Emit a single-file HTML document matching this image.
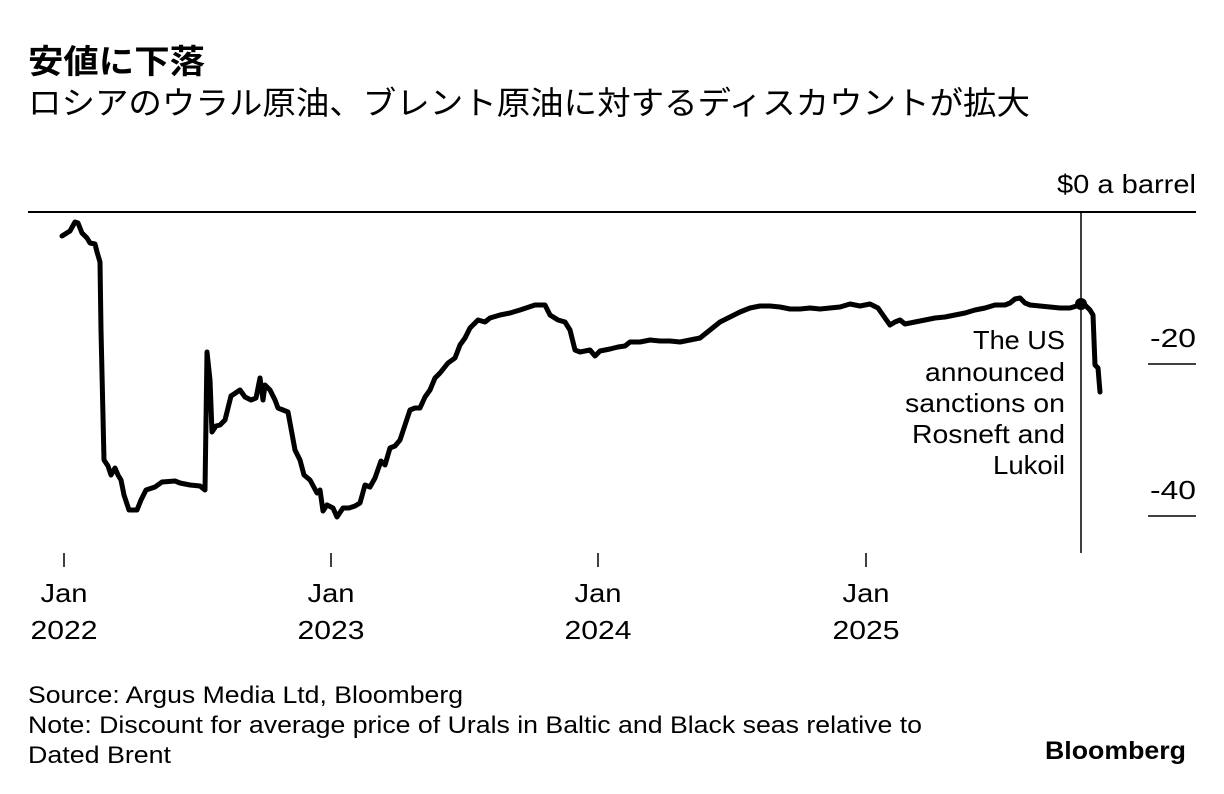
<!DOCTYPE html>
<html><head><meta charset="utf-8"><style>
body{margin:0;background:#fff;width:1224px;height:794px;overflow:hidden;font-family:"Liberation Sans","Noto Sans CJK JP",sans-serif;color:#000}
</style></head><body>
<svg width="1224" height="794" xmlns="http://www.w3.org/2000/svg" style="position:absolute;left:0;top:0;font-family:'Liberation Sans','Noto Sans CJK JP',sans-serif">
<text x="28" y="73" font-size="33" font-weight="bold" textLength="177" lengthAdjust="spacingAndGlyphs">安値に下落</text>
<text x="28" y="114" font-size="32" textLength="1002" lengthAdjust="spacingAndGlyphs">ロシアのウラル原油、ブレント原油に対するディスカウントが拡大</text>
<text x="1057" y="193" font-size="26" textLength="139" lengthAdjust="spacingAndGlyphs">$0 a barrel</text>
<line x1="28" y1="212" x2="1196" y2="212" stroke="#000" stroke-width="2"/>
<text x="1150" y="347" font-size="26" textLength="46" lengthAdjust="spacingAndGlyphs">-20</text>
<line x1="1148" y1="364" x2="1196" y2="364" stroke="#000" stroke-width="1.5"/>
<text x="1150" y="499" font-size="26" textLength="46" lengthAdjust="spacingAndGlyphs">-40</text>
<line x1="1148" y1="516" x2="1196" y2="516" stroke="#000" stroke-width="1.5"/>
<line x1="1081" y1="212" x2="1081" y2="553" stroke="#000" stroke-width="1.5"/>
<g stroke="#000" stroke-width="1.5">
<line x1="64" y1="553" x2="64" y2="567"/><line x1="331" y1="553" x2="331" y2="567"/>
<line x1="598" y1="553" x2="598" y2="567"/><line x1="866" y1="553" x2="866" y2="567"/></g>
<g font-size="26" text-anchor="middle" lengthAdjust="spacingAndGlyphs">
<text x="64" y="602" textLength="47" lengthAdjust="spacingAndGlyphs">Jan</text><text x="64" y="639" textLength="67" lengthAdjust="spacingAndGlyphs">2022</text>
<text x="331" y="602" textLength="47" lengthAdjust="spacingAndGlyphs">Jan</text><text x="331" y="639" textLength="67" lengthAdjust="spacingAndGlyphs">2023</text>
<text x="598" y="602" textLength="47" lengthAdjust="spacingAndGlyphs">Jan</text><text x="598" y="639" textLength="67" lengthAdjust="spacingAndGlyphs">2024</text>
<text x="866" y="602" textLength="47" lengthAdjust="spacingAndGlyphs">Jan</text><text x="866" y="639" textLength="67" lengthAdjust="spacingAndGlyphs">2025</text></g>
<g font-size="26" text-anchor="end">
<text x="1065" y="349" textLength="92" lengthAdjust="spacingAndGlyphs">The US</text>
<text x="1065" y="381" textLength="140" lengthAdjust="spacingAndGlyphs">announced</text>
<text x="1065" y="412" textLength="160" lengthAdjust="spacingAndGlyphs">sanctions on</text>
<text x="1065" y="443" textLength="153" lengthAdjust="spacingAndGlyphs">Rosneft and</text>
<text x="1065" y="474" textLength="72" lengthAdjust="spacingAndGlyphs">Lukoil</text></g>
<polyline fill="none" stroke="#000" stroke-width="5" stroke-linejoin="round" stroke-linecap="round" points="62,236 70,231 75,222 78,223 82,233 87,238 90,243 95,244 97,252 100,262 101,330 104,460 108,466 111,475 115,468 118,475 121,480 124,495 129,510 137,510 141,500 146,490 155,487 162,482 175,481 180,483 190,485 200,486 205,490 207,352 210,380 212,432 216,426 220,425 225,420 231,396 240,390 245,397 251,400 256,398 260,378 263,400 265,385 270,390 275,400 278,408 283,410 288,412 295,450 300,460 304,475 310,480 317,493 320,490 323,511 327,505 333,508 337,517 343,508 349,508 355,506 360,503 365,485 370,487 375,478 381,461 385,465 390,448 395,446 400,440 405,425 410,410 415,408 420,408 425,397 430,390 435,378 440,373 448,363 455,358 460,345 465,338 470,328 478,320 485,322 490,318 500,315 510,313 520,310 535,305 545,305 550,315 558,320 565,322 570,330 575,350 580,352 590,350 595,356 600,351 610,349 618,347 625,346 630,342 640,342 650,340 660,341 670,341 680,342 690,340 700,338 710,330 720,322 730,317 740,312 750,308 760,306 770,306 780,307 790,309 800,309 810,308 820,309 830,308 840,307 850,304 860,306 870,304 878,308 885,318 890,325 895,322 900,320 905,324 915,322 925,320 935,318 945,317 955,315 965,313 975,310 985,308 995,305 1005,305 1010,303 1015,299 1020,298 1025,303 1030,305 1040,306 1050,307 1060,308 1070,308 1080,305 1085,305 1090,310 1093,315 1095,365 1098,368 1100,392"/>
<circle cx="1081" cy="304" r="6" fill="#000"/>
<g font-size="24">
<text x="28" y="703" textLength="435" lengthAdjust="spacingAndGlyphs">Source: Argus Media Ltd, Bloomberg</text>
<text x="28" y="733" textLength="894" lengthAdjust="spacingAndGlyphs">Note: Discount for average price of Urals in Baltic and Black seas relative to</text>
<text x="28" y="763" textLength="143" lengthAdjust="spacingAndGlyphs">Dated Brent</text></g>
<text x="1045" y="759" font-size="25" font-weight="bold" textLength="141" lengthAdjust="spacingAndGlyphs">Bloomberg</text>
</svg>
</body></html>
